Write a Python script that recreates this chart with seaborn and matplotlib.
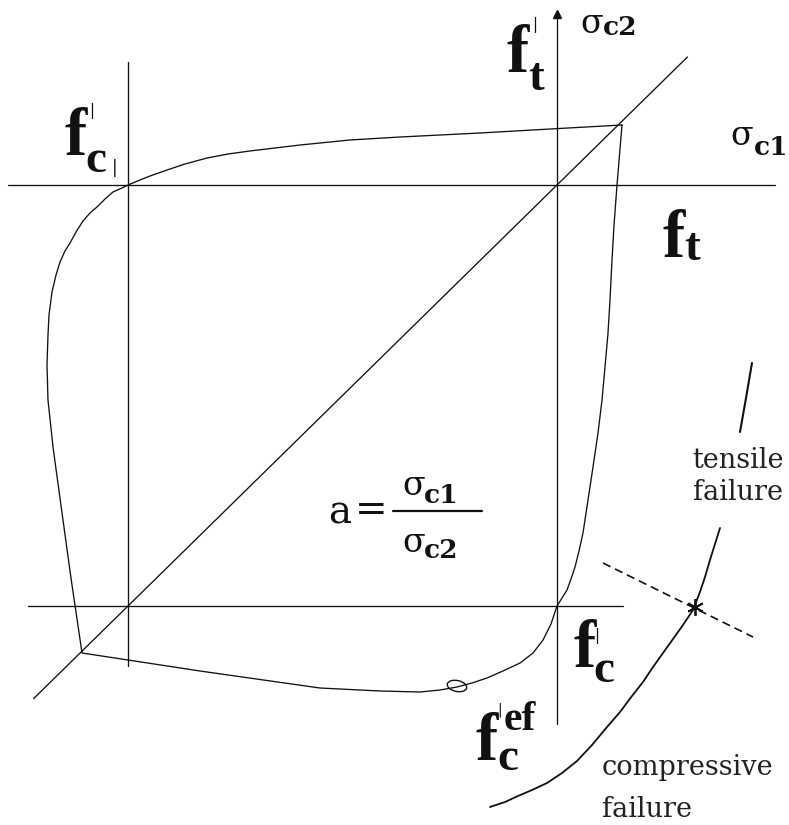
import matplotlib
matplotlib.use("Agg")
import matplotlib.pyplot as plt
from matplotlib.patches import Ellipse
import seaborn as sns
import pandas as pd

# Biaxial stress plane, stresses normalised by the uniaxial compressive strength f'c
# (sigma_c1 horizontal, sigma_c2 vertical, compression negative).

# Failure envelope, traced from the biaxial-tension corner anticlockwise
env_s1 = [0.1515, -0.0163, -0.1795, -0.3660, -0.4825, -0.5991, -0.7156, -0.7669,
          -0.8159, -0.8671, -0.9091, -0.9487, -0.9720, -1.0,
          -1.0140, -1.0350, -1.0536, -1.0723, -1.0886, -1.1049, -1.1212, -1.1352,
          -1.1469, -1.1585, -1.1678, -1.1772, -1.1841, -1.1865, -1.1888, -1.1865,
          -1.1748, -1.1538, -1.1329, -1.1072,
          -0.8322, -0.5524, -0.4126, -0.3193, -0.2727, -0.2331, -0.1981, -0.1632,
          -0.1259, -0.0862, -0.0559, -0.0326, -0.0140, 0.0,
          0.0117, 0.0233, 0.0326, 0.0420, 0.0513, 0.0606, 0.0723, 0.0839, 0.0956,
          0.1049, 0.1119, 0.1189, 0.1235, 0.1282, 0.1329, 0.1399, 0.1515]
env_s2 = [0.1425, 0.1330, 0.1235, 0.1140, 0.1069, 0.0950, 0.0808, 0.0736,
          0.0641, 0.0499, 0.0356, 0.0214, 0.0119, 0.0,
          -0.0071, -0.0166, -0.0333, -0.0523, -0.0665, -0.0855, -0.1116, -0.1378,
          -0.1568, -0.1829, -0.2138, -0.2542, -0.3088, -0.3563, -0.4276, -0.5107,
          -0.6223, -0.7791, -0.9335, -1.1116,
          -1.1544, -1.1948, -1.2019, -1.2043, -1.1995, -1.1924, -1.1829, -1.1710,
          -1.1544, -1.1354, -1.1116, -1.0808, -1.0428, -1.0,
          -0.9810, -0.9620, -0.9359, -0.9074, -0.8694, -0.8266, -0.7482, -0.6698, -0.5891,
          -0.5107, -0.4323, -0.3515, -0.2732, -0.1781, -0.0950, 0.0, 0.1425]

# Proportional loading path a = sigma_c1 / sigma_c2 = 1
diag_s = [-1.22, 0.304]

# Coordinate axes and the uniaxial-compression reference lines
ax1_s1 = [-1.280, 0.508]
ax2_s2 = [-1.280, 0.406]
ref_v_s2 = [-1.143, 0.292]
ref_h_s1 = [-1.233, 0.154]

# Failure-mode sketch: compressive branch, tensile branch and the dividing line
comp_s1 = [-0.1562, -0.1212, -0.0909, -0.0583, -0.0233, 0.0117, 0.0466, 0.0816,
           0.1166, 0.1469, 0.1748, 0.2005, 0.2238, 0.2471, 0.2704, 0.2937, 0.3170,
           0.3333, 0.3450, 0.3566, 0.3683, 0.3800]
comp_s2 = [-1.4774, -1.4656, -1.4513, -1.4371, -1.4204, -1.3967, -1.3682, -1.3302,
           -1.2874, -1.2518, -1.2138, -1.1805, -1.1449, -1.1116, -1.0784, -1.0451, -1.0095,
           -0.9667, -0.9311, -0.8907, -0.8527, -0.8147]
tens_s1 = [0.4266, 0.4406, 0.4545]
tens_s2 = [-0.5867, -0.5059, -0.4228]
split_s1 = [0.1072, 0.4569]
split_s2 = [-0.8979, -1.0736]
switch_pt = (0.3217, -1.0024)
eff_pt = (-0.2331, -1.1900)

sns.set_theme(style="white")
plt.rcParams["font.family"] = ["DejaVu Serif", "DejaVu Sans"]

fig = plt.figure(figsize=(7.89, 8.25), dpi=100)
ax = fig.add_axes([0, 0, 1, 1])
ax.set_xlim(-557 / 429, 232 / 429)
ax.set_ylim(-640 / 421, 185 / 421)
ax.axis("off")

ink = "#111111"
lw = 0.95

def draw(xs, ys, **kw):
    df = pd.DataFrame({"s1": xs, "s2": ys})
    sns.lineplot(data=df, x="s1", y="s2", sort=False, estimator=None, ax=ax,
                 color=kw.pop("color", ink), linewidth=kw.pop("linewidth", lw), **kw)

draw(ax1_s1, [0, 0])
draw([0, 0], ax2_s2)
draw([-1, -1], ref_v_s2)
draw(ref_h_s1, [-1, -1])
draw(diag_s, diag_s)
draw(env_s1, env_s2)
draw(comp_s1, comp_s2, linewidth=1.3)
draw(tens_s1, tens_s2, linewidth=1.5)
draw(split_s1, split_s2, linewidth=1.2, linestyle=(0, (5, 3)))

ax.plot([0], [ax2_s2[1]], marker="^", markersize=6, color=ink)
ax.plot([switch_pt[0]], [switch_pt[1]], marker=(6, 2, 0), markersize=12,
        color=ink, markeredgewidth=1.3)
ax.add_patch(Ellipse(eff_pt, 0.046, 0.026, angle=-12, fill=False,
                     edgecolor=ink, linewidth=1.0))

bold_serif = "Liberation Serif"

def bold(x, y, s, size):
    ax.text(x, y, s, fontsize=size, fontweight="bold", family=bold_serif,
            color=ink, ha="left", va="baseline")

def tick(x, y, size=11):
    ax.text(x, y, "|", fontsize=size, family="DejaVu Sans", color=ink,
            ha="center", va="center")

def sigma(x, y, xs, ys, sub, size=24, subsize=19):
    ax.text(x, y, "σ", fontsize=size, color=ink, ha="left", va="baseline")
    ax.text(xs, ys, sub, fontsize=subsize, fontweight="bold", color=ink,
            ha="left", va="baseline")

# f't on the sigma_c2 axis
bold(-0.1166, 0.2684, "f", 48)
bold(-0.0676, 0.2257, "t", 34)
tick(-0.0513, 0.380)
# axis names
sigma(0.0536, 0.361, 0.1072, 0.3563, "c2")
sigma(0.4033, 0.0950, 0.4592, 0.0713, "c1")
# ft on the sigma_c1 axis
bold(0.2448, -0.1710, "f", 48)
bold(0.2960, -0.1781, "t", 34)
# f'c (left)
bold(-1.1469, 0.0713, "f", 48)
bold(-1.1002, 0.0309, "c", 34)
tick(-1.0839, 0.1758)
tick(-1.0303, 0.0404, size=12)
# f'c (bottom)
bold(0.0373, -1.1449, "f", 48)
bold(0.0839, -1.1805, "c", 34)
tick(0.0932, -1.0713)
# effective compressive strength
bold(-0.1911, -1.3658, "f", 48)
bold(-0.1399, -1.3895, "c", 34)
tick(-0.1329, -1.2470, size=10)
bold(-0.1235, -1.2945, "ef", 30)

# a = sigma_c1 / sigma_c2
ax.text(-0.5338, -0.8029, "a", fontsize=28, color=ink, ha="left", va="baseline")
ax.text(-0.4709, -0.7720, "=", fontsize=28, color=ink, ha="left", va="center")
ax.plot([-0.3823, -0.1748], [-0.7743, -0.7743], color=ink, linewidth=1.6)
sigma(-0.3613, -0.7363, -0.3100, -0.7553, "c1")
sigma(-0.3613, -0.8717, -0.3100, -0.8860, "c2")

ax.text(0.3147, -0.6722, "tensile", fontsize=19.5, color="#222222", ha="left", va="baseline")
ax.text(0.3170, -0.7482, "failure", fontsize=19.5, color="#222222", ha="left", va="baseline")
ax.text(0.1049, -1.4014, "compressive", fontsize=19.5, color="#222222", ha="left", va="baseline")
ax.text(0.1049, -1.5012, "failure", fontsize=19.5, color="#222222", ha="left", va="baseline")

fig.savefig("out.png", dpi=100)
